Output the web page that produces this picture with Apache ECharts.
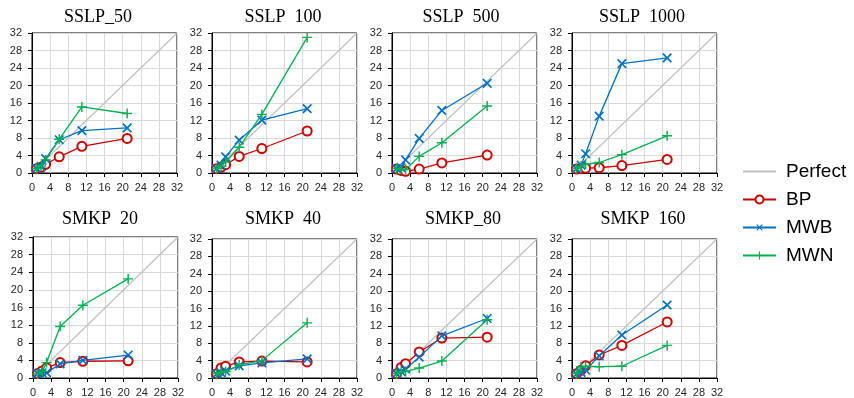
<!DOCTYPE html>
<html>
<head>
<meta charset="utf-8">
<script src="https://cdn.jsdelivr.net/npm/echarts@6/dist/echarts.min.js"></script>
<style>
html,body{margin:0;padding:0;background:#fff;}
#chart{width:854px;height:398px;}
</style>
</head>
<body>
<div id="chart"></div>
<script>
// ---- data ----
var threads = [1, 2, 3, 6, 11, 21];
var perfectLine = [[0, 0], [32, 32]];
var axisTicks = [0, 4, 8, 12, 16, 20, 24, 28, 32];
var seriesNames = ['Perfect', 'BP', 'MWB', 'MWN'];
var panelTitles = ['SSLP_50', 'SSLP  100', 'SSLP  500', 'SSLP  1000', 'SMKP  20', 'SMKP  40', 'SMKP_80', 'SMKP  160'];

var sslp50_BP   = [1.0, 1.3, 2.0, 3.7, 6.1, 7.9];
var sslp50_MWB  = [1.0, 1.5, 3.3, 7.6, 9.7, 10.3];
var sslp50_MWN  = [1.0, 1.6, 3.0, 7.7, 15.1, 13.6];

var sslp100_BP  = [1.0, 1.3, 1.9, 3.8, 5.6, 9.6];
var sslp100_MWB = [1.0, 1.8, 3.7, 7.5, 12.1, 14.7];
var sslp100_MWN = [1.0, 1.6, 2.5, 5.9, 13.4, 31.0];

var sslp500_BP  = [0.9, 0.6, 0.4, 0.9, 2.3, 4.1];
var sslp500_MWB = [1.0, 1.2, 3.0, 7.9, 14.3, 20.5];
var sslp500_MWN = [1.0, 0.8, 0.8, 3.8, 6.9, 15.3];

var sslp1000_BP  = [0.9, 1.0, 1.1, 1.2, 1.7, 3.1];
var sslp1000_MWB = [1.0, 1.8, 4.4, 13.0, 25.0, 26.3];
var sslp1000_MWN = [1.0, 1.6, 2.0, 2.4, 4.2, 8.5];

var smkp20_BP  = [1.0, 1.6, 2.3, 3.5, 3.8, 3.9];
var smkp20_MWB = [1.0, 1.2, 1.2, 3.2, 4.0, 5.2];
var smkp20_MWN = [0.9, 1.5, 3.5, 11.7, 16.5, 22.5];

var smkp40_BP  = [1.0, 2.3, 2.7, 3.7, 3.9, 3.7];
var smkp40_MWB = [0.9, 1.2, 1.6, 2.8, 3.5, 4.4];
var smkp40_MWN = [1.0, 1.3, 1.5, 3.0, 4.0, 12.7];

var smkp80_BP  = [1.0, 2.4, 3.3, 6.0, 9.2, 9.4];
var smkp80_MWB = [1.0, 1.5, 2.1, 4.8, 9.7, 13.7];
var smkp80_MWN = [1.0, 1.4, 1.5, 2.3, 3.9, 13.4];

var smkp160_BP  = [1.0, 1.8, 2.8, 5.3, 7.5, 12.9];
var smkp160_MWB = [0.9, 1.3, 1.8, 5.1, 9.9, 16.8];
var smkp160_MWN = [1.0, 2.6, 2.7, 2.6, 2.7, 7.5];

var panelData = [
  [sslp50_BP, sslp50_MWB, sslp50_MWN],
  [sslp100_BP, sslp100_MWB, sslp100_MWN],
  [sslp500_BP, sslp500_MWB, sslp500_MWN],
  [sslp1000_BP, sslp1000_MWB, sslp1000_MWN],
  [smkp20_BP, smkp20_MWB, smkp20_MWN],
  [smkp40_BP, smkp40_MWB, smkp40_MWN],
  [smkp80_BP, smkp80_MWB, smkp80_MWN],
  [smkp160_BP, smkp160_MWB, smkp160_MWN]
];

// ---- layout / style ----
var grids = [
  {left: 32, top: 33, width: 145, height: 140},
  {left: 212, top: 33, width: 145, height: 140},
  {left: 392, top: 33, width: 145, height: 140},
  {left: 572, top: 33, width: 145, height: 140},
  {left: 33, top: 237, width: 145, height: 141},
  {left: 212, top: 239, width: 145, height: 139},
  {left: 392, top: 239, width: 145, height: 139},
  {left: 572, top: 239, width: 145, height: 139}
];
var titleX = [98, 283, 461, 642, 100, 283, 463, 643];
var titleY = [8, 8, 8, 8, 210, 210, 210, 210];

var colors = {Perfect: '#c0c0c0', BP: '#cc0000', MWB: '#0070c0', MWN: '#00b050'};
var plusPath = 'path://M4.3,0H5.7V4.3H10V5.7H5.7V10H4.3V5.7H0V4.3H4.3Z';
var markers = {
  BP: {symbol: 'emptyCircle', symbolSize: 9, symbolRotate: 0},
  MWB: {symbol: plusPath, symbolSize: 12, symbolRotate: 45},
  MWN: {symbol: plusPath, symbolSize: 10, symbolRotate: 0}
};

function pairs(xs, ys) {
  return xs.map(function (x, i) { return [x, ys[i]]; });
}

var option = {
  backgroundColor: '#ffffff',
  animation: false,
  title: [],
  grid: [],
  xAxis: [],
  yAxis: [],
  series: [],
  legend: {
    orient: 'vertical',
    left: 742,
    top: 162,
    padding: 0,
    itemWidth: 33,
    itemHeight: 10,
    itemGap: 9,
    data: seriesNames,
    textStyle: {fontFamily: 'Liberation Sans', fontSize: 19, color: '#000', padding: [0, 0, 0, 5]}
  }
};

var axisCommon = function (gi) {
  return {
    type: 'value', gridIndex: gi, min: 0, max: 32, interval: 4,
    axisLine: {show: true, onZero: false, lineStyle: {color: '#000', width: 1}},
    axisTick: {show: true, length: 4, lineStyle: {color: '#000'}},
    axisLabel: {fontFamily: 'Liberation Sans', fontSize: 11, color: '#262626', margin: 9,
      formatter: function (v) { return axisTicks.indexOf(v) >= 0 ? String(v) : ''; }},
    splitLine: {show: true, lineStyle: {color: '#d9d9d9', width: 1}}
  };
};

for (var g = 0; g < 8; g++) {
  var gr = grids[g];
  option.grid.push({left: gr.left, top: gr.top, width: gr.width, height: gr.height,
    show: true, borderColor: '#000', borderWidth: 1, containLabel: false});
  option.title.push({text: panelTitles[g], left: titleX[g], top: titleY[g], textAlign: 'center', padding: 0,
    textStyle: {fontFamily: 'Liberation Serif', fontSize: 18, fontWeight: 'normal', color: '#000'}});
  var xa = axisCommon(g);
  var ya = axisCommon(g);
  ya.axisLabel.margin = 10;
  option.xAxis.push(xa);
  option.yAxis.push(ya);

  option.series.push({
    name: 'Perfect', type: 'line', xAxisIndex: g, yAxisIndex: g,
    data: perfectLine, symbol: 'none',
    lineStyle: {color: colors.Perfect, width: 1.2},
    itemStyle: {color: 'rgba(0,0,0,0)', borderWidth: 0}, z: 2
  });
  ['BP', 'MWB', 'MWN'].forEach(function (nm, k) {
    var m = markers[nm];
    option.series.push({
      name: nm, type: 'line', xAxisIndex: g, yAxisIndex: g,
      data: pairs(threads, panelData[g][k]),
      symbol: m.symbol, symbolSize: m.symbolSize, symbolRotate: m.symbolRotate,
      showAllSymbol: true,
      lineStyle: {color: colors[nm], width: 1.3},
      itemStyle: {color: colors[nm], borderColor: colors[nm], borderWidth: nm === 'BP' ? 1.2 : 0},
      z: 3 + k
    });
  });
}

var chart = echarts.init(document.getElementById('chart'), null, {renderer: 'canvas'});
chart.setOption(option);
</script>
</body>
</html>
